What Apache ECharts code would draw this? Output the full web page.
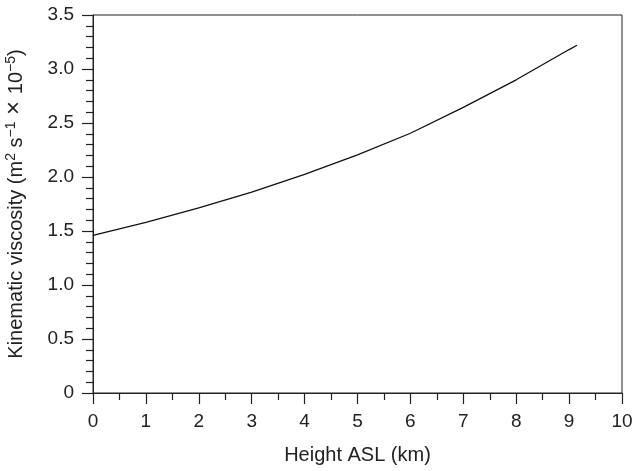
<!DOCTYPE html>
<html>
<head>
<meta charset="utf-8">
<script src="https://cdn.jsdelivr.net/npm/echarts@6/dist/echarts.min.js"></script>
<style>
  html, body { margin: 0; padding: 0; background: #fff; }
  #chart { width: 634px; height: 471px; }
</style>
</head>
<body>
<div id="chart"></div>
<script>
// height above sea level (km) and kinematic viscosity (x 10^-5 m2/s)
var heights = [0, 1, 2, 3, 4, 5, 6, 7, 8, 9, 9.15];
var viscosity = [1.46, 1.58, 1.715, 1.86, 2.025, 2.205, 2.405, 2.645, 2.9, 3.18, 3.22];

var xName = 'Height ASL (km)';
var yName = '{a|Kinematic viscosity (m}{s|2}{a| s}{s|\u22121}{x| \u00d7 }{a|10}{s|\u22125}{a|)}';

var chart = echarts.init(document.getElementById('chart'));
var font = 'Liberation Sans, Arial, sans-serif';
var ink = '#222';

var option = {
    animation: false,
    backgroundColor: '#fff',
    grid: {
        left: 93,
        right: 12,
        top: 15,
        bottom: 78,
        outerBoundsMode: 'none',
        containLabel: false,
        show: true,
        borderColor: ink,
        borderWidth: 1
    },
    xAxis: {
        type: 'value',
        min: 0,
        max: 10,
        interval: 1,
        name: xName,
        nameLocation: 'middle',
        nameGap: 52,
        nameTextStyle: { fontFamily: font, fontSize: 20, color: ink },
        axisLine: { lineStyle: { color: ink, width: 1 } },
        axisTick: { length: 11, lineStyle: { color: ink, width: 1.2 } },
        minorTick: { show: true, splitNumber: 2, length: 7, lineStyle: { color: ink, width: 1.2 } },
        axisLabel: { fontFamily: font, fontSize: 19, color: ink, margin: 19 },
        splitLine: { show: false }
    },
    yAxis: {
        type: 'value',
        min: 0,
        max: 3.5,
        interval: 0.5,
        name: yName,
        nameLocation: 'middle',
        nameGap: 67,
        nameTextStyle: {
            fontFamily: font, fontSize: 20, color: ink,
            rich: {
                a: { fontFamily: font, fontSize: 20, color: ink, lineHeight: 22, verticalAlign: 'bottom' },
                x: { fontFamily: font, fontSize: 24, color: ink, lineHeight: 22, verticalAlign: 'bottom' },
                s: { fontFamily: font, fontSize: 14, color: ink, lineHeight: 22, verticalAlign: 'top' }
            }
        },
        axisLine: { show: true, lineStyle: { color: ink, width: 1 } },
        axisTick: { show: true, length: 11, lineStyle: { color: ink, width: 1.2 } },
        minorTick: { show: true, splitNumber: 5, length: 7, lineStyle: { color: ink, width: 1.2 } },
        axisLabel: {
            fontFamily: font, fontSize: 19, color: ink, margin: 19,
            formatter: function (v) { return v === 0 ? '0' : v.toFixed(1); }
        },
        splitLine: { show: false }
    },
    series: [{
        type: 'line',
        data: heights.map(function (h, i) { return [h, viscosity[i]]; }),
        symbol: 'none',
        lineStyle: { color: '#111', width: 1.3 }
    }]
};
chart.setOption(option);
</script>
</body>
</html>
